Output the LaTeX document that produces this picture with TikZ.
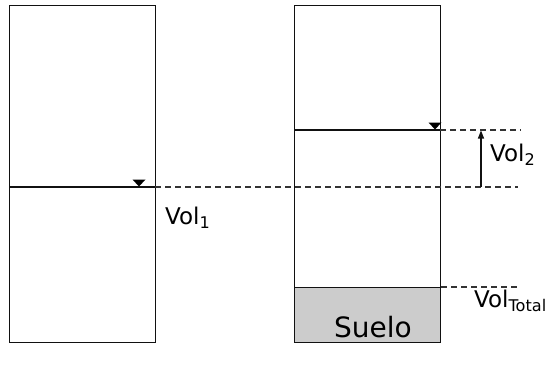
\documentclass[tikz,border=0pt]{standalone}
\usepackage{fontspec}
\setmainfont{DejaVu Sans}
\usetikzlibrary{arrows.meta}
\definecolor{soil}{HTML}{CCCCCC}
\definecolor{linec}{HTML}{111111}
\definecolor{dashc}{HTML}{333333}
\begin{document}
\begin{tikzpicture}[x=1pt,y=-1pt,
  tank/.style={draw=linec,line width=1.2pt},
  level/.style={draw=linec,line width=1.2pt},
  ext/.style={draw=dashc,line width=1.2pt,dash pattern=on 6pt off 4pt},
  marker/.style={fill=black,draw=none},
  lab/.style={inner sep=0pt,font=\fontsize{23}{26}\selectfont},
  big/.style={inner sep=0pt,font=\fontsize{28}{32}\selectfont}]
\useasboundingbox (0,0) rectangle (546,372);
% tanks
\node[tank,minimum width=146pt,minimum height=337pt,anchor=north west,inner sep=0pt] (t1) at (9,5) {};
\node[tank,minimum width=146pt,minimum height=337pt,anchor=north west,inner sep=0pt] (t2) at (294,5) {};
% soil
\node[draw=linec,line width=1.2pt,fill=soil,minimum width=146pt,minimum height=55pt,anchor=north west,inner sep=0pt] (soil) at (294,287) {};
\node[big] (suelo) at (373,327.5) {Suelo};
% levels
\coordinate (l1a) at (9,187);
\coordinate (l1b) at (155,187);
\coordinate (l1e) at (518,187);
\draw[level] (l1a) -- (l1b);
\draw[ext] (l1b) -- (l1e);
\coordinate (l2a) at (294,130);
\coordinate (l2b) at (440,130);
\coordinate (l2e) at (521,130);
\draw[level] (l2a) -- (l2b);
\draw[ext] (l2b) -- (l2e);
\coordinate (l3e) at (520,287);
\draw[ext] (soil.north east) -- (l3e);
% water markers
\fill[marker] (139,186.5) -- (132.5,179.5) -- (145.5,179.5) -- cycle;
\fill[marker] (435,129.5) -- (428.5,122.5) -- (441.5,122.5) -- cycle;
% arrow
\coordinate (ar1) at (481,187);
\coordinate (ar2) at (481,130.5);
\draw[linec,line width=1.2pt,-{Triangle[length=8pt,width=6pt]}] (ar1) -- (ar2);
% labels
\node[lab,anchor=west] (v1) at (165,218) {Vol\textsubscript{1}};
\node[lab,anchor=west] (v2) at (490,155) {Vol\textsubscript{2}};
\node[lab,anchor=west] (vt) at (474,301) {Vol\textsubscript{Total}};
\end{tikzpicture}
\end{document}
